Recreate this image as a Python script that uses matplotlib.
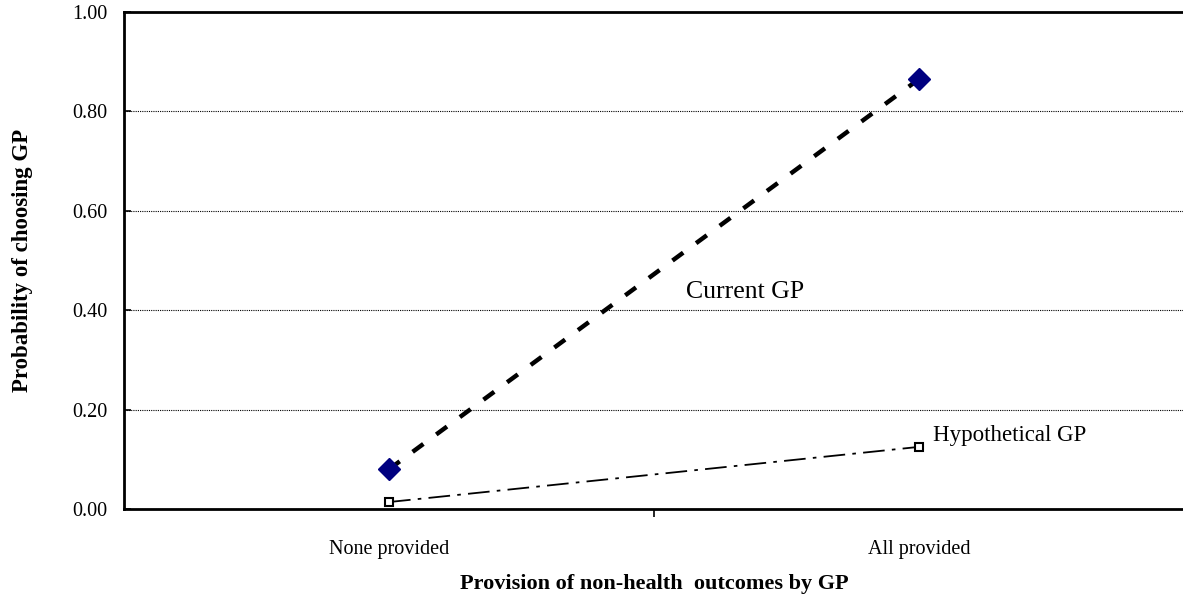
import matplotlib
matplotlib.use('Agg')
import matplotlib.pyplot as plt

plt.rcParams['font.family'] = ['Liberation Serif', 'DejaVu Serif']

categories = ['None provided', 'All provided']
current_gp = [0.08, 0.865]
hypothetical_gp = [0.014, 0.125]
y_ticks = [0.0, 0.2, 0.4, 0.6, 0.8, 1.0]

W, H = 1183, 598
fig = plt.figure(figsize=(W / 100, H / 100), dpi=100)
ax = fig.add_axes([124 / W, 1 - 509 / H, (1184 - 124) / W, (509 - 12) / H])

x = list(range(len(categories)))
ax.plot(x, current_gp, color='black', linewidth=3.2, linestyle=(0, (3, 3.6)), zorder=3)
ax.plot(x, current_gp, linestyle='none', marker='D', markersize=11,
        markerfacecolor='#000080', markeredgecolor='#000080', zorder=4)
ax.plot(x, hypothetical_gp, color='black', linewidth=1.3,
        linestyle=(0, (12, 4, 2, 4)), marker='s', markersize=6,
        markerfacecolor='white', markeredgecolor='black', markeredgewidth=1.5, zorder=4)

ax.text(0.56, 0.437, 'Current GP', fontsize=18.5, va='center', ha='left')
ax.text(1.026, 0.147, 'Hypothetical GP', fontsize=16.5, va='center', ha='left')

ax.set_xlim(-0.5, 1.5)
ax.set_ylim(0, 1.0)
ax.set_yticks(y_ticks)
ax.set_yticklabels([f'{v:.2f}' for v in y_ticks], fontsize=14.5)
ax.set_xticks([0.5])
ax.set_xticklabels([''])
ax.set_xticks(x, minor=True)
ax.set_xticklabels(categories, minor=True, fontsize=14.5)
ax.tick_params(axis='x', which='minor', length=0, pad=22)
ax.tick_params(axis='x', which='major', length=6, width=1.2, direction='out')
ax.tick_params(axis='y', length=5, width=1.2, direction='in', pad=12)

ax.yaxis.grid(True, color='black', linestyle=(0, (1, 1)), linewidth=0.8)
ax.set_axisbelow(True)

for s in ['left', 'bottom', 'top', 'right']:
    ax.spines[s].set_linewidth(2)

ax.set_xlabel('Provision of non-health  outcomes by GP', fontsize=16,
              fontweight='bold', labelpad=11)
ax.set_ylabel('Probability of choosing GP', fontsize=16.5, fontweight='bold', labelpad=28)

fig.savefig('out.png', dpi=100)
